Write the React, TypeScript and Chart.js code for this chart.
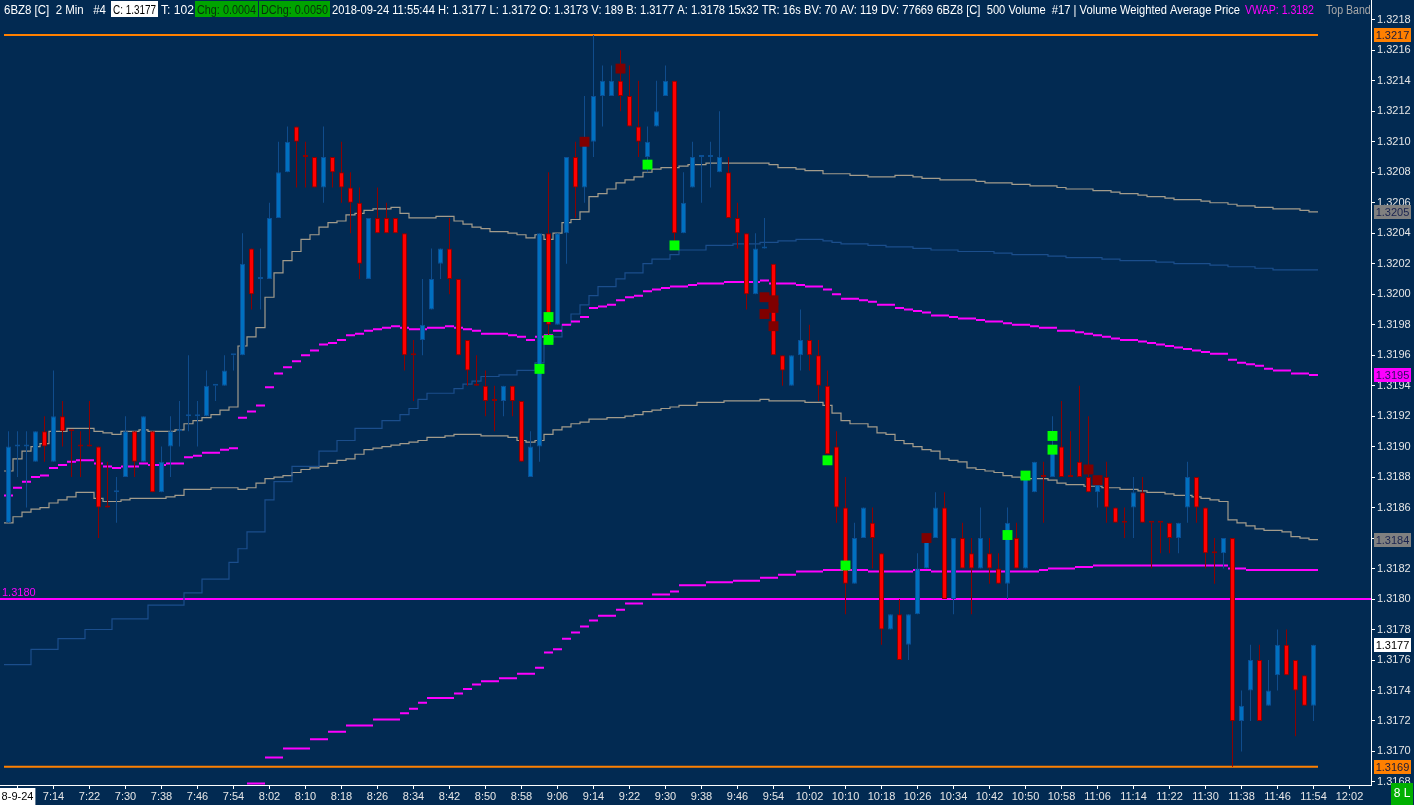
import React, { useEffect, useRef } from 'react';
import { Chart, registerables } from 'chart.js';

Chart.register(...registerables);

// ---------------- data (prices of 6BZ8, 2-minute bars from 7:04 to 11:54) ----------------
const OPEN = [
  1.3185, 1.3190, 1.3190, 1.3189, 1.3191, 1.3189, 1.3192, 1.3191, 1.3190, 1.3190,
  1.3190, 1.3186, 1.3187, 1.3188, 1.3191, 1.3189, 1.3191, 1.3187, 1.3190, 1.3191,
  1.3192, 1.3192, 1.3192, 1.3194, 1.3194, 1.3196, 1.3196, 1.3203, 1.3201, 1.3201,
  1.3205, 1.3208, 1.3211, 1.3209, 1.3209, 1.3207, 1.3209, 1.3208, 1.3207, 1.3206,
  1.3201, 1.3205, 1.3205, 1.3205, 1.3204, 1.3196, 1.3197, 1.3199, 1.3202, 1.3203,
  1.3201, 1.3197, 1.3194, 1.3194, 1.3193, 1.3193, 1.3194, 1.3193, 1.3188, 1.3190,
  1.3204, 1.3198, 1.3204, 1.3209, 1.3207, 1.3210, 1.3213, 1.3213, 1.3214, 1.3213,
  1.3211, 1.3209, 1.3211, 1.3213, 1.3214, 1.3204, 1.3207, 1.3209, 1.3209, 1.3208,
  1.3208, 1.3205, 1.3204, 1.3200, 1.3203, 1.3202, 1.3196, 1.3194, 1.3196, 1.3197,
  1.3196, 1.3194, 1.3190, 1.3186, 1.3181, 1.3184, 1.3185, 1.3183, 1.3178, 1.3179,
  1.3177, 1.3179, 1.3182, 1.3184, 1.3186, 1.3180, 1.3184, 1.3183, 1.3182, 1.3183,
  1.3182, 1.3181, 1.3184, 1.3182, 1.3187, 1.3188, 1.3188, 1.3190, 1.3188, 1.3189,
  1.3188, 1.3187, 1.3188, 1.3186, 1.3185, 1.3186, 1.3187, 1.3185, 1.3185, 1.3185,
  1.3184, 1.3186, 1.3188, 1.3186, 1.3183, 1.3183, 1.3184, 1.3172, 1.3174, 1.3176,
  1.3173, 1.3175, 1.3177, 1.3176, 1.3175, 1.3173,
];
const HIGH = [
  1.3191, 1.3191, 1.3191, 1.3191, 1.3192, 1.3195, 1.3193, 1.3191, 1.3191, 1.3193,
  1.3190, 1.3189, 1.3188, 1.3192, 1.3191, 1.3192, 1.3191, 1.3190, 1.3192, 1.3193,
  1.3196, 1.3193, 1.3195, 1.3194, 1.3196, 1.3196, 1.3204, 1.3203, 1.3203, 1.3206,
  1.3210, 1.3211, 1.3211, 1.3210, 1.3209, 1.3211, 1.3209, 1.3210, 1.3208, 1.3207,
  1.3205, 1.3207, 1.3206, 1.3205, 1.3204, 1.3197, 1.3201, 1.3203, 1.3203, 1.3205,
  1.3201, 1.3197, 1.3196, 1.3195, 1.3194, 1.3194, 1.3194, 1.3193, 1.3191, 1.3204,
  1.3208, 1.3204, 1.3209, 1.3210, 1.3213, 1.3217, 1.3215, 1.3215, 1.3216, 1.3215,
  1.3214, 1.3211, 1.3214, 1.3215, 1.3214, 1.3208, 1.3210, 1.3209, 1.3210, 1.3212,
  1.3209, 1.3206, 1.3204, 1.3204, 1.3205, 1.3202, 1.3196, 1.3196, 1.3199, 1.3198,
  1.3197, 1.3195, 1.3191, 1.3188, 1.3185, 1.3186, 1.3186, 1.3183, 1.3179, 1.3180,
  1.3179, 1.3183, 1.3184, 1.3187, 1.3187, 1.3184, 1.3185, 1.3184, 1.3186, 1.3184,
  1.3183, 1.3186, 1.3185, 1.3188, 1.3189, 1.3189, 1.3192, 1.3193, 1.3191, 1.3194,
  1.3192, 1.31875, 1.3189, 1.3186, 1.3186, 1.3188, 1.3188, 1.3185, 1.3185, 1.3185,
  1.3185, 1.3189, 1.3188, 1.3186, 1.3184, 1.3184, 1.3184, 1.3174, 1.3177, 1.3177,
  1.3176, 1.3178, 1.3178, 1.3176, 1.3175, 1.3177,
];
const LOW = [
  1.3185, 1.3188, 1.3186, 1.3189, 1.3189, 1.3189, 1.3190, 1.3188, 1.3188, 1.3190,
  1.3184, 1.3186, 1.3185, 1.3188, 1.3188, 1.3189, 1.3187, 1.3187, 1.3188, 1.3190,
  1.3191, 1.3190, 1.3192, 1.3193, 1.3194, 1.3195, 1.3196, 1.3199, 1.3199, 1.3201,
  1.3205, 1.3208, 1.3207, 1.3207, 1.3207, 1.3206, 1.3207, 1.3206, 1.3204, 1.3201,
  1.3201, 1.3204, 1.3204, 1.3204, 1.3195, 1.3193, 1.3196, 1.3199, 1.3201, 1.3200,
  1.3196, 1.3194, 1.3194, 1.3192, 1.3191, 1.3192, 1.3192, 1.3189, 1.3188, 1.3189,
  1.3197, 1.3198, 1.3202, 1.3205, 1.3206, 1.3209, 1.3211, 1.3213, 1.3212, 1.3211,
  1.3209, 1.3208, 1.3211, 1.3213, 1.3203, 1.3204, 1.3207, 1.3206, 1.3207, 1.3208,
  1.3205, 1.3203, 1.3199, 1.3200, 1.3203, 1.3196, 1.3194, 1.3194, 1.3195, 1.3195,
  1.3193, 1.31895, 1.3185, 1.3179, 1.3181, 1.3184, 1.3182, 1.3177, 1.3178, 1.3176,
  1.3176, 1.3179, 1.3182, 1.3184, 1.3180, 1.3179, 1.3182, 1.3179, 1.3182, 1.3181,
  1.3181, 1.3180, 1.3182, 1.3182, 1.3187, 1.3185, 1.3188, 1.3188, 1.3188, 1.3188,
  1.3187, 1.3186, 1.3185, 1.3185, 1.3184, 1.3184, 1.3185, 1.3182, 1.3183, 1.3183,
  1.3183, 1.3185, 1.3185, 1.3182, 1.3181, 1.3182, 1.3169, 1.3170, 1.3172, 1.3172,
  1.3173, 1.3174, 1.3175, 1.3171, 1.3173, 1.3172,
];
const CLOSE = [
  1.3190, 1.3190, 1.3190, 1.3191, 1.3190, 1.3192, 1.3191, 1.3191, 1.3190, 1.3190,
  1.3186, 1.3186, 1.3187, 1.3191, 1.3189, 1.3192, 1.3187, 1.3189, 1.3191, 1.3191,
  1.3192, 1.3192, 1.3194, 1.3194, 1.3195, 1.3196, 1.3202, 1.3200, 1.3201, 1.3205,
  1.3208, 1.3210, 1.3210, 1.3209, 1.3207, 1.3209, 1.3208, 1.3207, 1.3206, 1.3202,
  1.3205, 1.3204, 1.3204, 1.3204, 1.3196, 1.3196, 1.3198, 1.3201, 1.3203, 1.3201,
  1.3196, 1.3195, 1.3194, 1.3193, 1.3193, 1.3194, 1.3193, 1.3189, 1.3190, 1.3204,
  1.3198, 1.3204, 1.3209, 1.3207, 1.3210, 1.3213, 1.3214, 1.3214, 1.3213, 1.3211,
  1.3210, 1.3210, 1.3212, 1.3214, 1.3204, 1.3206, 1.3209, 1.3209, 1.3209, 1.3209,
  1.3205, 1.3204, 1.3200, 1.3203, 1.3203, 1.3196, 1.3195, 1.3196, 1.3197, 1.3196,
  1.3194, 1.31895, 1.3186, 1.3181, 1.3184, 1.3186, 1.3184, 1.3178, 1.3179, 1.3176,
  1.3179, 1.3182, 1.3184, 1.3186, 1.3180, 1.3184, 1.3182, 1.3182, 1.3184, 1.3182,
  1.3181, 1.3185, 1.3182, 1.3188, 1.3189, 1.3188, 1.3190, 1.3188, 1.3188, 1.3188,
  1.3187, 1.31875, 1.3186, 1.3185, 1.3185, 1.3187, 1.3185, 1.3185, 1.3185, 1.3184,
  1.3185, 1.3188, 1.3186, 1.3183, 1.3183, 1.3184, 1.3172, 1.3173, 1.3176, 1.3172,
  1.3174, 1.3177, 1.3175, 1.3174, 1.3173, 1.3177,
];
// bar colour as drawn (U = blue up bar, D = red down bar), needed for the doji bars
const BAR_DIRECTION = [
  'UUUUDUDDDD', 'DDUUDUDUUU', 'UUUUUUUDUU', 'UUDDDUDDDD', 'UDDDDDUUUD',
  'DDDDDUDDUU', 'DUUDUUUUDD', 'DUUUDUUUUU', 'DDDUUDDUUD', 'DDDDUUDDUD',
  'UUUUDUDDUD', 'DUDUUDUDDD', 'DUDDDUDDDD', 'UUDDDUDUUD', 'UUDDDU',
].join('');

const UPPER_BAND = [
  1.31884, 1.31892, 1.31897, 1.31900, 1.31902, 1.31910, 1.31910, 1.31912, 1.31912, 1.31912,
  1.31910, 1.31909, 1.31908, 1.31910, 1.31910, 1.31911, 1.31910, 1.31910, 1.31910, 1.31911,
  1.31915, 1.31917, 1.31919, 1.31921, 1.31924, 1.31926, 1.31966, 1.31972, 1.31978, 1.31998,
  1.32014, 1.32022, 1.32028, 1.32036, 1.32039, 1.32044, 1.32047, 1.32048, 1.32052, 1.32053,
  1.32055, 1.32056, 1.32056, 1.32057, 1.32053, 1.32050, 1.32050, 1.32050, 1.32051, 1.32051,
  1.32048, 1.32046, 1.32044, 1.32043, 1.32041, 1.32041, 1.32040, 1.32039, 1.32037, 1.32039,
  1.32036, 1.32040, 1.32047, 1.32049, 1.32054, 1.32064, 1.32066, 1.32069, 1.32073, 1.32075,
  1.32077, 1.32080, 1.32082, 1.32083, 1.32083, 1.32084, 1.32085, 1.32085, 1.32086, 1.32086,
  1.32086, 1.32086, 1.32086, 1.32086, 1.32086, 1.32085, 1.32083, 1.32083, 1.32082, 1.32081,
  1.32081, 1.32079, 1.32079, 1.32079, 1.32078, 1.32078, 1.32077, 1.32077, 1.32077, 1.32078,
  1.32078, 1.32077, 1.32076, 1.32076, 1.32075, 1.32075, 1.32075, 1.32075, 1.32074, 1.32073,
  1.32073, 1.32073, 1.32072, 1.32072, 1.32071, 1.32071, 1.32071, 1.32070, 1.32069, 1.32069,
  1.32069, 1.32068, 1.32068, 1.32067, 1.32066, 1.32066, 1.32065, 1.32064, 1.32064, 1.32063,
  1.32062, 1.32062, 1.32062, 1.32061, 1.32060, 1.32060, 1.32059, 1.32058, 1.32058, 1.32057,
  1.32057, 1.32056, 1.32056, 1.32056, 1.32055, 1.32054,
];
const MID_BAND = [
  1.31757, 1.31757, 1.31757, 1.31767, 1.31767, 1.31767, 1.31774, 1.31774, 1.31774, 1.31780,
  1.31780, 1.31780, 1.31787, 1.31787, 1.31787, 1.31787, 1.31796, 1.31796, 1.31796, 1.31796,
  1.31804, 1.31804, 1.31813, 1.31813, 1.31813, 1.31824, 1.31833, 1.31844, 1.31844, 1.31865,
  1.31877, 1.31877, 1.31887, 1.31887, 1.31887, 1.31897, 1.31897, 1.31904, 1.31904, 1.31912,
  1.31912, 1.31912, 1.31917, 1.31917, 1.31921, 1.31925, 1.31931, 1.31935, 1.31935, 1.31935,
  1.31938, 1.31941, 1.31943, 1.31946, 1.31946, 1.31947, 1.31947, 1.31950, 1.31950, 1.31955,
  1.31969, 1.31972, 1.31980, 1.31987, 1.31993, 1.31999, 1.32005, 1.32005, 1.32010, 1.32014,
  1.32014, 1.32020, 1.32023, 1.32023, 1.32026, 1.32029, 1.32029, 1.32029, 1.32032, 1.32032,
  1.32032, 1.32033, 1.32033, 1.32033, 1.32034, 1.32034, 1.32035, 1.32035, 1.32036, 1.32036,
  1.32036, 1.32035, 1.32034, 1.32033, 1.32033, 1.32033, 1.32032, 1.32032, 1.32031, 1.32031,
  1.32031, 1.32030, 1.32030, 1.32029, 1.32029, 1.32029, 1.32028, 1.32028, 1.32028, 1.32028,
  1.32027, 1.32027, 1.32026, 1.32026, 1.32026, 1.32026, 1.32025, 1.32025, 1.32024, 1.32024,
  1.32024, 1.32024, 1.32023, 1.32023, 1.32022, 1.32022, 1.32022, 1.32022, 1.32021, 1.32021,
  1.32020, 1.32020, 1.32020, 1.32020, 1.32019, 1.32019, 1.32018, 1.32018, 1.32018, 1.32017,
  1.32017, 1.32016, 1.32016, 1.32016, 1.32016, 1.32016,
];
const TOP_BAND = [
  1.31868, 1.31873, 1.31877, 1.31880, 1.31881, 1.31886, 1.31888, 1.31890, 1.31891, 1.31891,
  1.31889, 1.31887, 1.31886, 1.31887, 1.31887, 1.31889, 1.31888, 1.31888, 1.31889, 1.31889,
  1.31893, 1.31894, 1.31896, 1.31896, 1.31898, 1.31899, 1.31919, 1.31923, 1.31927, 1.31939,
  1.31948, 1.31952, 1.31956, 1.31960, 1.31963, 1.31967, 1.31968, 1.31970, 1.31973, 1.31974,
  1.31976, 1.31977, 1.31978, 1.31979, 1.31978, 1.31977, 1.31977, 1.31978, 1.31978, 1.31979,
  1.31978, 1.31977, 1.31976, 1.31974, 1.31974, 1.31974, 1.31973, 1.31972, 1.31970, 1.31972,
  1.31973, 1.31976, 1.31980, 1.31982, 1.31985, 1.31991, 1.31992, 1.31993, 1.31996, 1.31998,
  1.31999, 1.32002, 1.32003, 1.32004, 1.32005, 1.32005, 1.32006, 1.32007, 1.32007, 1.32007,
  1.32008, 1.32008, 1.32008, 1.32008, 1.32009, 1.32007, 1.32007, 1.32007, 1.32006, 1.32005,
  1.32005, 1.32003, 1.32000, 1.31997, 1.31997, 1.31996, 1.31995, 1.31993, 1.31993, 1.31991,
  1.31990, 1.31989, 1.31988, 1.31986, 1.31986, 1.31985, 1.31984, 1.31984, 1.31983, 1.31982,
  1.31982, 1.31981, 1.31980, 1.31980, 1.31979, 1.31978, 1.31978, 1.31976, 1.31976, 1.31975,
  1.31974, 1.31973, 1.31972, 1.31971, 1.31970, 1.31970, 1.31969, 1.31968, 1.31967, 1.31966,
  1.31965, 1.31964, 1.31963, 1.31962, 1.31961, 1.31961, 1.31957, 1.31955, 1.31954, 1.31953,
  1.31951, 1.31950, 1.31950, 1.31948, 1.31948, 1.31947,
];
const LOWER_BAND = [
  1.31850, 1.31854, 1.31857, 1.31859, 1.31860, 1.31863, 1.31865, 1.31867, 1.31870, 1.31870,
  1.31866, 1.31864, 1.31864, 1.31865, 1.31866, 1.31866, 1.31866, 1.31866, 1.31867, 1.31868,
  1.31872, 1.31872, 1.31872, 1.31873, 1.31873, 1.31873, 1.31872, 1.31873, 1.31876, 1.31879,
  1.31880, 1.31881, 1.31883, 1.31885, 1.31886, 1.31887, 1.31889, 1.31891, 1.31892, 1.31895,
  1.31898, 1.31899, 1.31900, 1.31901, 1.31902, 1.31903, 1.31904, 1.31906, 1.31906, 1.31907,
  1.31908, 1.31908, 1.31908, 1.31907, 1.31907, 1.31907, 1.31906, 1.31904, 1.31903, 1.31904,
  1.31908, 1.31911, 1.31913, 1.31915, 1.31916, 1.31918, 1.31918, 1.31919, 1.31919, 1.31920,
  1.31921, 1.31923, 1.31924, 1.31925, 1.31926, 1.31927, 1.31927, 1.31929, 1.31929, 1.31929,
  1.31930, 1.31930, 1.31930, 1.31930, 1.31931, 1.31930, 1.31930, 1.31930, 1.31930, 1.31929,
  1.31929, 1.31927, 1.31922, 1.31917, 1.31915, 1.31915, 1.31913, 1.31909, 1.31908, 1.31904,
  1.31902, 1.31900, 1.31898, 1.31897, 1.31892, 1.31891, 1.31890, 1.31886, 1.31885, 1.31884,
  1.31883, 1.31881, 1.31880, 1.31879, 1.31879, 1.31879, 1.31878, 1.31876, 1.31875, 1.31875,
  1.31874, 1.31874, 1.31873, 1.31873, 1.31872, 1.31872, 1.31871, 1.31870, 1.31870, 1.31869,
  1.31868, 1.31868, 1.31867, 1.31866, 1.31865, 1.31864, 1.31852, 1.31850, 1.31848, 1.31846,
  1.31845, 1.31845, 1.31844, 1.31841, 1.31840, 1.31839,
];
const VWAP = [
  null, null, null, null, null, null, null, null, null, null,
  null, null, null, null, null, null, null, null, null, null,
  null, null, null, null, null, null, null, 1.31679, 1.31679, 1.31696,
  1.31696, 1.31702, 1.31702, 1.31702, 1.31708, 1.31708, 1.31713, 1.31713, 1.31717, 1.31717,
  1.31717, 1.31721, 1.31721, 1.31721, 1.31725, 1.31728, 1.31732, 1.31735, 1.31735, 1.31735,
  1.31738, 1.31741, 1.31744, 1.31746, 1.31746, 1.31748, 1.31748, 1.31751, 1.31751, 1.31755,
  1.31765, 1.31767, 1.31774, 1.31778, 1.31782, 1.31786, 1.31789, 1.31789, 1.31793, 1.31797,
  1.31797, 1.31800, 1.31803, 1.31803, 1.31805, 1.31809, 1.31809, 1.31809, 1.31811, 1.31811,
  1.31811, 1.31812, 1.31812, 1.31812, 1.31814, 1.31814, 1.31816, 1.31816, 1.31818, 1.31818,
  1.31818, 1.31819, 1.31819, 1.31819, 1.31819, 1.31819, 1.31818, 1.31818, 1.31818, 1.31818,
  1.31818, 1.31819, 1.31819, 1.31818, 1.31818, 1.31818, 1.31818, 1.31818, 1.31818, 1.31818,
  1.31818, 1.31818, 1.31818, 1.31818, 1.31818, 1.31819, 1.31820, 1.31820, 1.31820, 1.31821,
  1.31821, 1.31822, 1.31822, 1.31822, 1.31822, 1.31822, 1.31822, 1.31822, 1.31822, 1.31822,
  1.31822, 1.31822, 1.31822, 1.31822, 1.31822, 1.31822, 1.31820, 1.31820, 1.31819, 1.31819,
  1.31819, 1.31819, 1.31819, 1.31819, 1.31819, 1.31819,
];

const GREEN_BAR = [59, 60, 60, 71, 74, 91, 93, 111, 113, 116, 116];
const GREEN_PRICE = [1.31951, 1.31985, 1.3197, 1.32085, 1.32032, 1.31891, 1.31822, 1.31842, 1.31881, 1.31907, 1.31898];
const MAROON_BAR = [64, 68, 84, 84, 85, 85, 85, 102, 120, 121];
const MAROON_PRICE = [1.321, 1.32148, 1.31998, 1.31987, 1.31996, 1.31991, 1.31979, 1.3184, 1.31885, 1.31878];

const SESSION_HIGH = 1.3217;
const SESSION_LOW = 1.3169;
const LEVEL = 1.318;

const Y_TICKS = [
  1.3168, 1.317, 1.3172, 1.3174, 1.3176, 1.3178, 1.318, 1.3182, 1.3184, 1.3186, 1.3188,
  1.319, 1.3192, 1.3194, 1.3196, 1.3198, 1.32, 1.3202, 1.3204, 1.3206, 1.3208, 1.321,
  1.3212, 1.3214, 1.3216, 1.3218,
];
const X_TICK_BARS = [
  1, 5, 9, 13, 17, 21, 25, 29, 33, 37, 41, 45, 49, 53, 57, 61, 65, 69, 73, 77, 81, 85, 89,
  93, 97, 101, 105, 109, 113, 117, 121, 125, 129, 133, 137, 141, 145, 149,
];
const X_TICK_LABELS = [
  '8-9-24', '7:14', '7:22', '7:30', '7:38', '7:46', '7:54', '8:02', '8:10', '8:18', '8:26',
  '8:34', '8:42', '8:50', '8:58', '9:06', '9:14', '9:22', '9:30', '9:38', '9:46', '9:54',
  '10:02', '10:10', '10:18', '10:26', '10:34', '10:42', '10:50', '10:58', '11:06', '11:14',
  '11:22', '11:30', '11:38', '11:46', '11:54', '12:02',
];

// ---------------- look ----------------
const BG = '#022a52';
const FONT = '"Liberation Sans", Arial, sans-serif';
const UP_FILL = '#0070c0';
const UP_EDGE = '#0b4f94';
const UP_WICK = '#104c8c';
const DN_FILL = '#ff0000';
const DN_EDGE = '#8b0000';
const DN_WICK = '#8b0000';
const BAND_GRAY = '#a39c8c';
const BAND_BLUE = '#1b4e8c';
const MAGENTA = '#ff00ff';
const ORANGE = '#ff8000';

const X_MIN = -0.9444444;
const X_MAX = 151.3888889;
const Y_MIN = 1.31678;
const Y_MAX = 1.32193;

function stepPoints(values: (number | null)[]) {
  const pts: any[] = [];
  values.forEach((v, i) => {
    pts.push({ x: i - 0.5, y: v }, { x: i + 0.5, y: v });
  });
  return pts;
}
function dashPoints(values: (number | null)[]) {
  const pts: any[] = [];
  values.forEach((v, i) => {
    if (v == null) return;
    pts.push({ x: i - 0.5, y: v }, { x: i + 0.5, y: v }, { x: i + 0.5, y: null });
  });
  return pts;
}

const HEADER = [
  { text: '6BZ8 [C]  2 Min   #4', x0: 4, x1: 106, color: '#ffffff' },
  { text: 'C: 1.3177', x0: 111, x1: 158, color: '#000000', bg: '#ffffff' },
  { text: 'T: 102', x0: 161, x1: 194, color: '#ffffff' },
  { text: 'Chg: 0.0004', x0: 195, x1: 258, color: '#08300c', bg: '#00a400' },
  { text: 'DChg: 0.0050', x0: 259, x1: 330, color: '#08300c', bg: '#00a400' },
  {
    text:
      '2018-09-24 11:55:44 H: 1.3177 L: 1.3172 O: 1.3173 V: 189 B: 1.3177 A: 1.3178 15x32 TR: 16s BV: 70 AV: 119 DV: 77669 6BZ8 [C]  500 Volume  #17 | Volume Weighted Average Price',
    x0: 332, x1: 1240, color: '#ffffff',
  },
  { text: 'VWAP: 1.3182', x0: 1245, x1: 1314, color: MAGENTA },
  { text: 'Top Band', x0: 1326, x1: 1376, color: '#a8a8a8' },
];

const decorPlugin = {
  id: 'decor',
  beforeDraw(chart: any) {
    const { ctx, width, height } = chart;
    ctx.save();
    ctx.fillStyle = BG;
    ctx.fillRect(0, 0, width, height);
    ctx.restore();
  },
  afterDraw(chart: any) {
    const { ctx, chartArea } = chart;
    const y = chart.scales.y;
    ctx.save();
    // level label
    ctx.font = `11px ${FONT}`;
    ctx.fillStyle = MAGENTA;
    ctx.textAlign = 'left';
    ctx.textBaseline = 'alphabetic';
    ctx.fillText(LEVEL.toFixed(4), chartArea.left + 2, y.getPixelForValue(LEVEL) - 3);

    // value boxes on the price axis
    const last = OPEN.length - 1;
    const boxes = [
      { v: SESSION_HIGH, bg: ORANGE, fg: '#1a1a3a' },
      { v: UPPER_BAND[last], bg: '#808080', fg: '#1a2450' },
      { v: TOP_BAND[last], bg: MAGENTA, fg: '#2a1060' },
      { v: LOWER_BAND[last], bg: '#808080', fg: '#1a2450' },
      { v: CLOSE[last], bg: '#ffffff', fg: '#000000' },
      { v: SESSION_LOW, bg: ORANGE, fg: '#1a1a3a' },
    ];
    ctx.textAlign = 'center';
    ctx.textBaseline = 'middle';
    boxes.forEach((b) => {
      const py = Math.round(y.getPixelForValue(b.v));
      ctx.fillStyle = b.bg;
      ctx.fillRect(chartArea.right + 3, py - 7, 37, 14);
      ctx.fillStyle = b.fg;
      ctx.fillText(b.v.toFixed(4), chartArea.right + 21.5, py + 0.5);
    });

    // header line
    ctx.save();
    ctx.beginPath();
    ctx.rect(0, 0, chartArea.right - 1, 20);
    ctx.clip();
    ctx.font = `12px ${FONT}`;
    ctx.textAlign = 'left';
    ctx.textBaseline = 'alphabetic';
    let lastScale = 1;
    HEADER.forEach((seg: any, k) => {
      if (seg.bg) {
        ctx.fillStyle = seg.bg;
        ctx.fillRect(seg.x0, 1, seg.x1 - seg.x0, 16);
      }
      const pad = seg.bg ? 2 : 0;
      const w = ctx.measureText(seg.text).width;
      let sx = (seg.x1 - seg.x0 - 2 * pad) / w;
      if (k === HEADER.length - 1) sx = lastScale;
      lastScale = sx;
      ctx.save();
      ctx.translate(seg.x0 + pad, 13.5);
      ctx.scale(sx, 1);
      ctx.fillStyle = seg.color;
      ctx.fillText(seg.text, 0, 0);
      ctx.restore();
    });
    ctx.restore();

    // bottom-right status box
    ctx.fillStyle = '#00b000';
    ctx.fillRect(chartArea.right + 20, chartArea.bottom - 2, 22, 22);
    ctx.fillStyle = '#ffffff';
    ctx.font = `12px ${FONT}`;
    ctx.textAlign = 'center';
    ctx.textBaseline = 'middle';
    ctx.fillText('8 L', chartArea.right + 31, chartArea.bottom + 9);
    ctx.restore();
  },
};

export default function App() {
  const canvasRef = useRef<HTMLCanvasElement>(null);

  useEffect(() => {
    const canvas = canvasRef.current;
    if (!canvas) return;
    const idx = OPEN.map((_, i) => i);
    const isUp = (i: number) => BAR_DIRECTION[i] === 'U';
    const lineBase = { type: 'line', pointRadius: 0, pointHoverRadius: 0, tension: 0, fill: false };

    const chart = new Chart(canvas, {
      type: 'bar',
      data: {
        datasets: [
          {
            ...lineBase, label: '1.3180',
            data: [{ x: X_MIN, y: LEVEL }, { x: X_MAX, y: LEVEL }],
            borderColor: MAGENTA, borderWidth: 2, order: 20,
          },
          {
            ...lineBase, label: 'High',
            data: [{ x: -0.5, y: SESSION_HIGH }, { x: idx.length - 0.5, y: SESSION_HIGH }],
            borderColor: ORANGE, borderWidth: 2, order: 20,
          },
          {
            ...lineBase, label: 'Low',
            data: [{ x: -0.5, y: SESSION_LOW }, { x: idx.length - 0.5, y: SESSION_LOW }],
            borderColor: ORANGE, borderWidth: 2, order: 20,
          },
          {
            ...lineBase, label: 'Upper Band', data: stepPoints(UPPER_BAND),
            borderColor: BAND_GRAY, borderWidth: 1.2, order: 10,
          },
          {
            ...lineBase, label: 'Mid Band', data: stepPoints(MID_BAND),
            borderColor: BAND_BLUE, borderWidth: 1.2, order: 10,
          },
          {
            ...lineBase, label: 'Lower Band', data: stepPoints(LOWER_BAND),
            borderColor: BAND_GRAY, borderWidth: 1.2, order: 10,
          },
          {
            ...lineBase, label: 'Top Band', data: dashPoints(TOP_BAND),
            borderColor: MAGENTA, borderWidth: 2, order: 9, spanGaps: false,
          },
          {
            ...lineBase, label: 'VWAP', data: dashPoints(VWAP),
            borderColor: MAGENTA, borderWidth: 2, order: 9, spanGaps: false,
          },
          {
            type: 'bar', label: 'wicks',
            data: idx.map((i) => ({ x: i, y: [LOW[i], HIGH[i]] })),
            backgroundColor: idx.map((i) => (isUp(i) ? UP_WICK : DN_WICK)),
            borderWidth: 0, barThickness: 1, grouped: false, inflateAmount: 0, order: 4,
          },
          {
            type: 'bar', label: 'bodies',
            data: idx.map((i) => ({ x: i, y: [OPEN[i], CLOSE[i]] })),
            backgroundColor: idx.map((i) => (isUp(i) ? UP_FILL : DN_FILL)),
            borderColor: idx.map((i) => (isUp(i) ? UP_EDGE : DN_EDGE)),
            borderWidth: 1, borderSkipped: false, barThickness: 5, minBarLength: 2,
            grouped: false, inflateAmount: 0, order: 3,
          },
          {
            type: 'line', label: 'signals',
            data: GREEN_BAR.map((b, k) => ({ x: b, y: GREEN_PRICE[k] })),
            showLine: false, pointStyle: 'rect', pointRadius: 7, pointHoverRadius: 7,
            pointBackgroundColor: '#00ff00', pointBorderWidth: 0, order: 1,
          },
          {
            type: 'line', label: 'marks',
            data: MAROON_BAR.map((b, k) => ({ x: b, y: MAROON_PRICE[k] })),
            showLine: false, pointStyle: 'rect', pointRadius: 7, pointHoverRadius: 7,
            pointBackgroundColor: '#800000', pointBorderWidth: 0, order: 2,
          },
        ] as any,
      },
      options: {
        responsive: false,
        maintainAspectRatio: false,
        devicePixelRatio: 1,
        animation: false,
        events: [],
        layout: { padding: 0, autoPadding: false },
        plugins: { legend: { display: false }, tooltip: { enabled: false } },
        scales: {
          x: {
            type: 'linear',
            min: X_MIN,
            max: X_MAX,
            offset: false,
            afterBuildTicks: (s: any) => {
              s.ticks = X_TICK_BARS.map((v) => ({ value: v }));
            },
            afterFit: (s: any) => {
              s.height = 20;
              s.paddingLeft = 0;
              s.paddingRight = 0;
              s.paddingTop = 0;
              s.paddingBottom = 0;
            },
            grid: { drawOnChartArea: false, offset: false, color: '#ffffff', tickLength: 4, lineWidth: 1 },
            border: { color: '#ffffff', width: 1 },
            ticks: {
              autoSkip: false,
              maxRotation: 0,
              minRotation: 0,
              padding: 1,
              font: { family: FONT, size: 11 },
              color: (c: any) => (c.index === 0 ? '#000000' : '#e6e6e6'),
              showLabelBackdrop: (c: any) => c.index === 0,
              backdropColor: '#ffffff',
              backdropPadding: { left: 2, right: 2, top: 2, bottom: 4 },
              callback: (_v: any, i: number) => X_TICK_LABELS[i],
            },
          },
          y: {
            type: 'linear',
            position: 'right',
            min: Y_MIN,
            max: Y_MAX,
            afterBuildTicks: (s: any) => {
              s.ticks = Y_TICKS.map((v) => ({ value: v }));
            },
            afterFit: (s: any) => {
              s.width = 43;
              s.paddingTop = 0;
              s.paddingBottom = 0;
              s.paddingLeft = 0;
              s.paddingRight = 0;
            },
            grid: { drawOnChartArea: false, color: '#ffffff', tickLength: 4, lineWidth: 1 },
            border: { color: '#ffffff', width: 1 },
            ticks: {
              padding: 2,
              font: { family: FONT, size: 11 },
              color: '#e6e6e6',
              callback: (v: any) => Number(v).toFixed(4),
            },
          },
        },
      } as any,
      plugins: [decorPlugin],
    });
    return () => chart.destroy();
  }, []);

  return (
    <div style={{ position: 'fixed', left: 0, top: 0, width: 1414, height: 805, background: BG }}>
      <canvas ref={canvasRef} width={1414} height={805} style={{ display: 'block', width: 1414, height: 805 }} />
    </div>
  );
}
